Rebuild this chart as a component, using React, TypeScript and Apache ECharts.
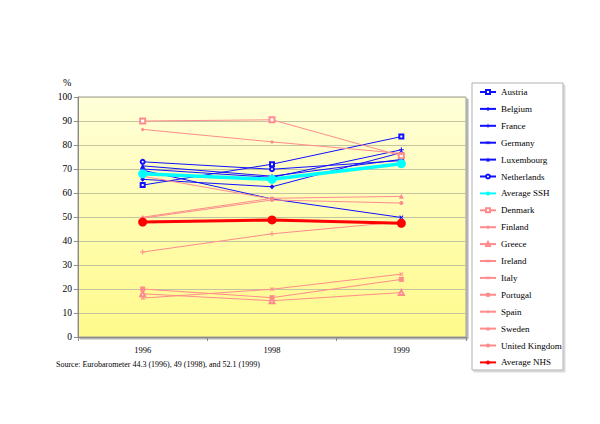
import React, { useEffect, useRef } from "react";
import * as echarts from "echarts";

const years = ["1996", "1998", "1999"];
const yTicks = { min: 0, max: 100, interval: 10 };

// Social security health systems (SSH)
const austria = [63.3, 72, 83.5];
const belgium = [65.7, 62.6, 76.8];
const france = [70, 66.5, 78];
const germany = [69.5, 57.5, 49.8];
const luxembourg = [71.3, 67, 74];
const netherlands = [73, 69.9, 73.5];
const averageSSH = [68, 65.7, 72.2];
// National health services (NHS)
const denmark = [90, 90.5, 75.5];
const finland = [86.5, 81.3, 76.5];
const greece = [18, 15.1, 18.5];
const ireland = [67, 57.5, null];
const italy = [16.2, 19.9, 26.2];
const portugal = [20, 16.4, 24];
const spain = [35.4, 43, 48];
const sweden = [49.9, 57.8, 58.6];
const uk = [49.5, 57.1, 55.8];
const averageNHS = [47.9, 48.8, 47.4];

const sourceText = "Source: Eurobarometer 44.3 (1996), 49 (1998), and 52.1 (1999)";

const BLUE = "#1010FF";
const PINK = "#FF8C8C";
const PLUS = "path://M4,0h2v4h4v2h-4v4h-2v-4h-4v-2h4z";
const SERIF = "'Liberation Serif', 'Times New Roman', serif";

function mk(
  name: string,
  data: (number | null)[],
  color: string,
  symbol: string,
  size: number,
  width: number,
  rotate = 0,
  z = 2,
  empty = false
) {
  return {
    type: "line",
    name,
    data,
    symbol,
    symbolSize: size,
    symbolRotate: rotate,
    showAllSymbol: true,
    connectNulls: false,
    lineStyle: { color, width },
    itemStyle: empty
      ? { color, borderColor: color, borderWidth: 1 }
      : { color, borderWidth: 0 },
    emphasis: { disabled: true },
    z,
  };
}

export default function App() {
  const ref = useRef<HTMLDivElement>(null);
  useEffect(() => {
    document.body.style.margin = "0";
    if (!ref.current) return;
    const chart = echarts.init(ref.current, null, { renderer: "svg" });
    const series = [
      mk("Austria", austria, BLUE, "emptyRect", 4, 1, 0, 2, true),
      mk("Belgium", belgium, BLUE, "diamond", 5, 1),
      mk("France", france, BLUE, PLUS, 5, 1),
      mk("Germany", germany, BLUE, PLUS, 5, 1, 45),
      mk("Luxembourg", luxembourg, BLUE, "triangle", 5, 1),
      mk("Netherlands", netherlands, BLUE, "emptyCircle", 4, 1, 0, 2, true),
      mk("Average SSH", averageSSH, "#00FFFF", "circle", 9, 3.5, 0, 4),
      mk("Denmark", denmark, PINK, "emptyRect", 5, 1, 0, 2, true),
      mk("Finland", finland, PINK, "diamond", 4, 1),
      mk("Greece", greece, PINK, "emptyTriangle", 5, 1, 0, 2, true),
      mk("Ireland", ireland, PINK, PLUS, 5, 1, 45),
      mk("Italy", italy, PINK, PLUS, 5, 1, 45),
      mk("Portugal", portugal, PINK, "rect", 5, 1),
      mk("Spain", spain, PINK, PLUS, 5, 1),
      mk("Sweden", sweden, PINK, "triangle", 5, 1),
      mk("United Kingdom", uk, PINK, "circle", 4, 1),
      mk("Average NHS", averageNHS, "#FF0000", "circle", 9, 3, 0, 5),
    ];
    chart.setOption({
      animation: false,
      backgroundColor: "#ffffff",
      textStyle: { fontFamily: SERIF },
      grid: {
        left: 78,
        top: 97,
        width: 388,
        height: 240,
        show: true,
        backgroundColor: new echarts.graphic.LinearGradient(0, 0, 0, 1, [
          { offset: 0, color: "#FFFFD9" },
          { offset: 1, color: "#FFFA8A" },
        ]),
        borderColor: "#9a9a9a",
        borderWidth: 1,
        shadowColor: "rgba(0,0,0,0.3)",
        shadowOffsetX: 2,
        shadowOffsetY: 2,
        shadowBlur: 0,
      },
      xAxis: {
        type: "category",
        data: years,
        boundaryGap: true,
        axisLine: { lineStyle: { color: "#8a8a8a" } },
        axisTick: { show: true, length: 4, lineStyle: { color: "#8a8a8a" } },
        axisLabel: { color: "#000", fontSize: 8.5, fontFamily: SERIF, margin: 8 },
      },
      yAxis: {
        type: "value",
        min: yTicks.min,
        max: yTicks.max,
        interval: yTicks.interval,
        axisLine: { show: true, lineStyle: { color: "#8a8a8a" } },
        axisTick: { show: true, length: 4, lineStyle: { color: "#8a8a8a" } },
        axisLabel: { color: "#000", fontSize: 9.5, fontFamily: SERIF, margin: 6 },
        splitLine: { lineStyle: { color: "#C4C4A0", width: 1 } },
      },
      legend: {
        orient: "vertical",
        left: 479,
        top: 86,
        padding: 0,
        itemWidth: 16,
        itemHeight: 5,
        itemGap: 4.9,
        selectedMode: false,
        textStyle: { fontSize: 9, lineHeight: 12, color: "#000", fontFamily: SERIF },
        data: series.map((s) => s.name),
      },
      graphic: [
        {
          type: "rect",
          z: -10,
          shape: { x: 472, y: 83, width: 91, height: 287 },
          style: {
            fill: "#ffffff",
            stroke: "#b0b0b0",
            lineWidth: 1,
            shadowColor: "rgba(0,0,0,0.15)",
            shadowOffsetX: 2,
            shadowOffsetY: 2,
            shadowBlur: 0,
          },
        },
        {
          type: "text",
          x: 63,
          y: 77,
          style: { text: "%", fontSize: 10, fontFamily: SERIF, fill: "#000" },
        },
        {
          type: "text",
          x: 56,
          y: 360,
          style: { text: sourceText, fontSize: 8, fontFamily: SERIF, fill: "#000" },
        },
      ],
      series,
    });
    return () => chart.dispose();
  }, []);
  return <div ref={ref} style={{ width: 600, height: 424 }} />;
}
